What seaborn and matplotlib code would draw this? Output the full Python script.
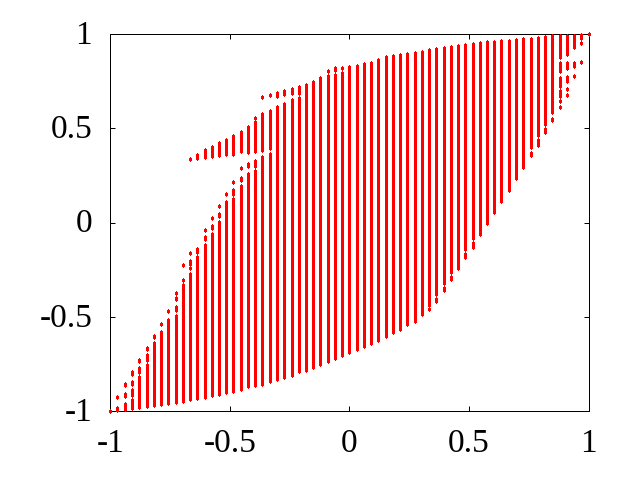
import matplotlib
matplotlib.use('Agg')
import matplotlib.pyplot as plt
from matplotlib.transforms import ScaledTranslation
import pandas as pd
import seaborn as sns

xs = [-1, -0.97, -0.939, -0.909, -0.879, -0.848, -0.818, -0.788, -0.758, -0.727, -0.697, -0.667,
      -0.636, -0.606, -0.576, -0.545, -0.515, -0.485, -0.455, -0.424, -0.394, -0.364, -0.333,
      -0.303, -0.273, -0.242, -0.212, -0.182, -0.152, -0.121, -0.091, -0.061, -0.03, 0,
      0.03, 0.061, 0.091, 0.121, 0.152, 0.182, 0.212, 0.242, 0.273, 0.303, 0.333, 0.364,
      0.394, 0.424, 0.455, 0.485, 0.515, 0.545, 0.576, 0.606, 0.636, 0.667, 0.697, 0.727,
      0.758, 0.788, 0.818, 0.848, 0.879, 0.909, 0.939, 0.97, 1]

# for each x: the runs of y values (top, bottom), or a single value for a lone point
runs = [
    [(-1.0,)],
    [(-0.927,), (-0.984, -0.995)],
    [(-0.856, -0.863), (-0.909, -0.921), (-0.962, -0.987)],
    [(-0.792, -0.802), (-0.845, -0.858), (-0.888, -0.916), (-0.941, -0.984)],
    [(-0.728, -0.736), (-0.772, -0.793), (-0.820, -0.980)],
    [(-0.665, -0.672), (-0.705, -0.729), (-0.757, -0.975)],
    [(-0.601, -0.608), (-0.638, -0.969)],
    [(-0.538,), (-0.580, -0.964)],
    [(-0.468,), (-0.516, -0.955)],
    [(-0.376,), (-0.399, -0.406), (-0.447, -0.464), (-0.497, -0.950)],
    [(-0.227,), (-0.302,), (-0.332, -0.945)],
    [(0.340,), (-0.159,), (-0.203, -0.218), (-0.243,), (-0.274, -0.934)],
    [(0.361, 0.344), (-0.140, -0.154), (-0.184, -0.929)],
    [(0.388, 0.350), (-0.037,), (-0.074, -0.087), (-0.120, -0.924)],
    [(0.404, 0.355), (0.027,), (-0.018, -0.030), (-0.062, -0.913)],
    [(0.425, 0.360), (0.090,), (0.046, 0.033), (0.002, -0.908)],
    [(0.441, 0.366), (0.154,), (0.110, -0.897)],
    [(0.462, 0.366), (0.218,), (0.176, 0.150), (0.123, -0.892)],
    [(0.483, 0.378), (0.292,), (0.239, 0.224), (0.192, -0.881)],
    [(0.510, 0.376), (0.314, 0.299), (0.260, -0.868)],
    [(0.558,), (0.533, 0.381), (0.329, 0.302), (0.273, -0.863)],
    [(0.668,), (0.579, 0.387), (0.349, -0.855)],
    [(0.677,), (0.595, 0.396), (0.367, -0.842)],
    [(0.690, 0.675), (0.616, -0.831)],
    [(0.701, 0.681), (0.632, -0.818)],
    [(0.711, 0.686), (0.653, -0.807)],
    [(0.722, 0.691), (0.664, -0.789)],
    [(0.733, -0.780)],
    [(0.749, -0.764)],
    [(0.770, -0.749)],
    [(0.807,), (0.778, -0.733)],
    [(0.819, 0.813), (0.782, -0.717)],
    [(0.822,), (0.793, -0.701)],
    [(0.828, -0.685)],
    [(0.833, -0.669)],
    [(0.844, -0.653)],
    [(0.849, -0.637)],
    [(0.865, -0.621)],
    [(0.881, -0.600)],
    [(0.886, -0.579)],
    [(0.892, -0.563)],
    [(0.897, -0.536)],
    [(0.902, -0.520)],
    [(0.908, -0.486)],
    [(0.918, -0.436), (-0.460,)],
    [(0.924, -0.379), (-0.406, -0.418)],
    [(0.929, -0.320), (-0.348, -0.359)],
    [(0.934, -0.262), (-0.290, -0.301)],
    [(0.940, -0.242)],
    [(0.945, -0.140), (-0.168, -0.184)],
    [(0.950, -0.082), (-0.109, -0.128)],
    [(0.955, -0.062)],
    [(0.961, -0.004)],
    [(0.961, 0.055)],
    [(0.966, 0.113)],
    [(0.966, 0.171)],
    [(0.971, 0.235)],
    [(0.977, 0.293)],
    [(0.977, 0.399), (0.372, 0.357)],
    [(0.982, 0.466), (0.439, 0.414)],
    [(0.987, 0.525), (0.497, 0.483)],
    [(0.989, 0.586), (0.550, 0.543)],
    [(0.991, 0.882), (0.847, 0.803), (0.768, 0.726), (0.701, 0.670), (0.646,), (0.614,)],
    [(0.993, 0.898), (0.847, 0.819), (0.773, 0.750), (0.711,), (0.679,)],
    [(0.993, 0.930), (0.847, 0.834), (0.776,)],
    [(0.998, 0.978), (0.955,), (0.855,)],
    [(1.0,)],
]

tick_values = [-1, -0.5, 0, 0.5, 1]
tick_labels = ['-1', '-0.5', '0', '0.5', '1']

rows = []
seg = 0
for x, col in zip(xs, runs):
    for run in col:
        for y in run:
            rows.append({'x': x, 'y': y, 'seg': seg})
        seg += 1
df = pd.DataFrame(rows)

sns.set_style('ticks')
plt.rcParams['font.family'] = ['Liberation Serif', 'DejaVu Serif']

fig = plt.figure(figsize=(6.4, 4.8), dpi=100)
ax = fig.add_axes([110.3 / 640, 1 - 411 / 480, 478.2 / 640, 376.7 / 480])

# gnuplot style point: 3 px wide, 5 px tall with a 1 px nub at each end
point = [(-1.5, -1.5), (-0.5, -1.5), (-0.5, -2.5), (0.5, -2.5), (0.5, -1.5), (1.5, -1.5),
         (1.5, 1.5), (0.5, 1.5), (0.5, 2.5), (-0.5, 2.5), (-0.5, 1.5), (-1.5, 1.5)]

# width just under 3 px so that snapping centres the line on a pixel
sns.lineplot(data=df, x='x', y='y', units='seg', estimator=None, sort=False, ax=ax,
             color='#ff0000', linewidth=2.158, marker=point, markersize=3.6,
             markeredgewidth=0, solid_capstyle='butt', clip_on=False, zorder=3,
             snap=True, legend=False)

ax.set_xlim(-1, 1)
ax.set_ylim(-1, 1)
ax.set_xlabel('')
ax.set_ylabel('')
ax.set_xticks(tick_values)
ax.set_xticklabels(tick_labels)
ax.set_yticks(tick_values)
ax.set_yticklabels(tick_labels)
ax.tick_params(axis='both', direction='in', length=3.4, width=0.72, color='black',
               labelcolor='black', labelsize=24, top=True, right=True)
ax.tick_params(axis='x', pad=12.5)
ax.tick_params(axis='y', pad=13)
# y labels sit about 2 px higher than centred on the tick
nudge = ScaledTranslation(0, 2 / 100, fig.dpi_scale_trans)
for label in ax.get_yticklabels():
    label.set_transform(label.get_transform() + nudge)
for side in ax.spines.values():
    side.set_visible(True)
    side.set_linewidth(0.72)
    side.set_color('black')

fig.savefig('out.png', dpi=100)
